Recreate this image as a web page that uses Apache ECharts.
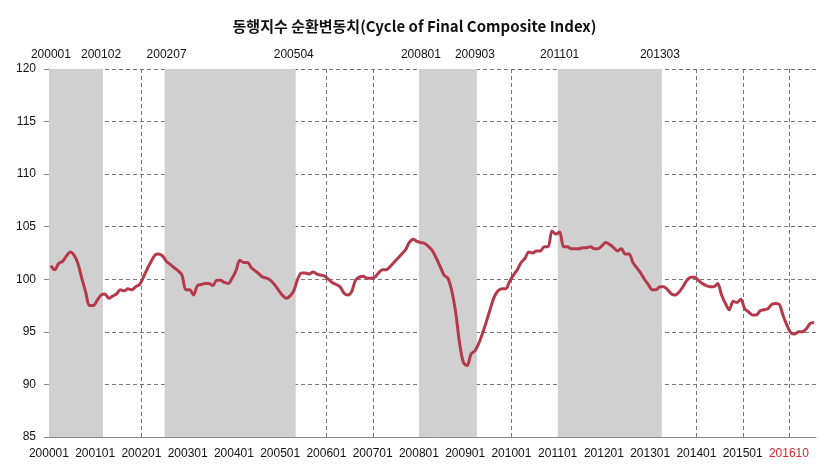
<!DOCTYPE html>
<html>
<head>
<meta charset="utf-8">
<title>동행지수 순환변동치</title>
<script src="https://cdn.jsdelivr.net/npm/echarts@6/dist/echarts.min.js"></script>
<style>
  html, body { margin: 0; padding: 0; background: #fff; }
  #chart { width: 829px; height: 473px; }
</style>
</head>
<body>
<div id="chart"></div>
<script>
// monthly categories, 200001 .. 201607
const firstMonth = '200001';
const lastMonth = '201607';
const months = [];
for (let y = 2000; y <= 2016; y++) {
  for (let m = 1; m <= 12; m++) {
    const key = y + (m < 10 ? '0' : '') + m;
    if (key >= firstMonth && key <= lastMonth) months.push(key);
  }
}

// cycle of coincident composite index
const cycle = [
  101.3, 100.9, 101.5, 101.7, 102.2, 102.6, 102.3, 101.5, 100.1, 98.8, 97.5, 97.5,
  98.0, 98.5, 98.6, 98.2, 98.4, 98.6, 99.0, 98.9, 99.1, 99.0, 99.3, 99.5,
  100.2, 101.0, 101.7, 102.3, 102.4, 102.2, 101.7, 101.4, 101.1, 100.8, 100.4, 99.0,
  99.0, 98.5, 99.4, 99.5, 99.6, 99.6, 99.4, 99.9, 99.9, 99.7, 99.6, 100.1,
  100.8, 101.8, 101.6, 101.6, 101.1, 100.8, 100.5, 100.2, 100.1, 99.9, 99.5, 99.0,
  98.5, 98.2, 98.4, 98.9, 100.0, 100.6, 100.6, 100.5, 100.7, 100.5, 100.4, 100.3,
  100.0, 99.7, 99.5, 99.3, 98.7, 98.5, 98.8, 99.9, 100.2, 100.3, 100.1, 100.1,
  100.2, 100.6, 100.9, 100.9, 101.2, 101.6, 102.0, 102.4, 102.8, 103.5, 103.8, 103.6,
  103.5, 103.4, 103.1, 102.7, 102.0, 101.2, 100.4, 100.1, 98.9, 96.9, 94.0, 92.1,
  91.8, 92.9, 93.2, 93.9, 94.9, 96.0, 97.2, 98.3, 98.9, 99.1, 99.1, 99.8,
  100.4, 100.9, 101.6, 102.0, 102.6, 102.5, 102.7, 102.7, 103.1, 103.1, 104.6, 104.3,
  104.5, 103.1, 103.1, 102.9, 102.9, 102.9, 103.0, 103.0, 103.1, 102.9, 102.9, 103.2,
  103.5, 103.3, 103.0, 102.7, 102.9, 102.4, 102.4, 101.6, 101.1, 100.6, 100.0, 99.5,
  99.0, 99.0, 99.3, 99.3, 99.0, 98.6, 98.5, 98.8, 99.3, 99.9, 100.2, 100.2,
  99.9, 99.6, 99.4, 99.3, 99.3, 99.6, 98.5, 97.7, 97.1, 97.9, 97.8, 98.1,
  97.2, 96.9, 96.6, 96.6, 97.0, 97.1, 97.2, 97.6, 97.7, 97.6, 96.5, 95.6,
  94.9, 94.8, 95.0, 95.0, 95.3, 95.8, 95.9
];

// shaded periods (start, end)
const shadePeriods = [
  ['200001', '200102'],
  ['200207', '200504'],
  ['200801', '200903'],
  ['201101', '201303']
];

// labels under the axis, one per 12 months
const bottomTicks = [
  '200001', '200101', '200201', '200301', '200401', '200501', '200601', '200701',
  '200801', '200901', '201001', '201101', '201201', '201301', '201401', '201501', '201610'
];

const yMin = 85, yMax = 120, yStep = 5;

const topTicks = shadePeriods.flat();
const shadeData = shadePeriods.map(p => [months.indexOf(p[0]), months.indexOf(p[1])]);

// one grey block per period, spanning whole category bands
function renderShade(params, api) {
  const a = api.coord([api.value(0), yMax]);
  const b = api.coord([api.value(1), yMin]);
  const band = api.size([1, 0])[0];
  return {
    type: 'rect',
    shape: { x: a[0] - band / 2, y: a[1], width: b[0] - a[0] + band, height: b[1] - a[1] },
    style: { fill: '#d0d0d0' }
  };
}

const labelFont = "'Liberation Sans', Arial, sans-serif";
const chart = echarts.init(document.getElementById('chart'));

chart.setOption({
  animation: false,
  title: {
    text: '동행지수 순환변동치(Cycle of Final Composite Index)',
    left: 'center',
    top: 14,
    textStyle: {
      fontFamily: "'Noto Sans CJK KR', sans-serif",
      fontSize: 15,
      fontWeight: 'bold',
      color: '#111'
    }
  },
  grid: { left: 49, right: 13, top: 69, bottom: 36 },
  xAxis: [
    {
      type: 'category',
      data: months,
      position: 'bottom',
      axisLine: { lineStyle: { color: '#888', width: 1 } },
      axisTick: {
        interval: i => i % 12 === 0,
        length: 5,
        lineStyle: { color: '#888' }
      },
      axisLabel: {
        interval: i => i % 12 === 0 && i / 12 < bottomTicks.length,
        margin: 11,
        padding: [0, 4, 0, 0],
        fontFamily: labelFont,
        fontSize: 12,
        color: '#111',
        formatter: (v, i) => {
          const t = bottomTicks[Math.round(i / 12)];
          return i / 12 === bottomTicks.length - 1 ? '{last|' + t + '}' : t;
        },
        rich: {
          last: { color: '#d9262e', fontFamily: labelFont, fontSize: 12 }
        }
      },
      splitLine: {
        show: true,
        interval: i => i % 12 === 0 && i > 0,
        showMaxLine: false,
        lineStyle: { color: '#777', type: [4, 3], width: 1 }
      }
    },
    {
      type: 'category',
      data: months,
      position: 'top',
      axisLine: { show: false },
      axisTick: { show: false },
      axisLabel: {
        interval: (i, v) => topTicks.includes(v),
        margin: 8,
        fontFamily: labelFont,
        fontSize: 12,
        color: '#111'
      },
      splitLine: { show: false }
    }
  ],
  yAxis: {
    type: 'value',
    min: yMin,
    max: yMax,
    interval: yStep,
    axisLine: { show: true, lineStyle: { color: '#888' } },
    axisTick: { show: true, length: 5, lineStyle: { color: '#888' } },
    axisLabel: {
      margin: 13,
      fontFamily: labelFont,
      fontSize: 12,
      color: '#111'
    },
    splitLine: { lineStyle: { color: '#777', type: [4, 3], width: 1 } }
  },
  series: [
    {
      name: 'shade',
      type: 'custom',
      xAxisIndex: 0,
      data: shadeData,
      encode: { x: [0, 1] },
      renderItem: renderShade,
      silent: true,
      z: 1
    },
    {
      name: 'cycle',
      type: 'line',
      xAxisIndex: 0,
      data: cycle,
      smooth: 0.3,
      showSymbol: false,
      lineStyle: { color: '#b3394b', width: 3 },
      z: 3
    }
  ]
});
</script>
</body>
</html>
